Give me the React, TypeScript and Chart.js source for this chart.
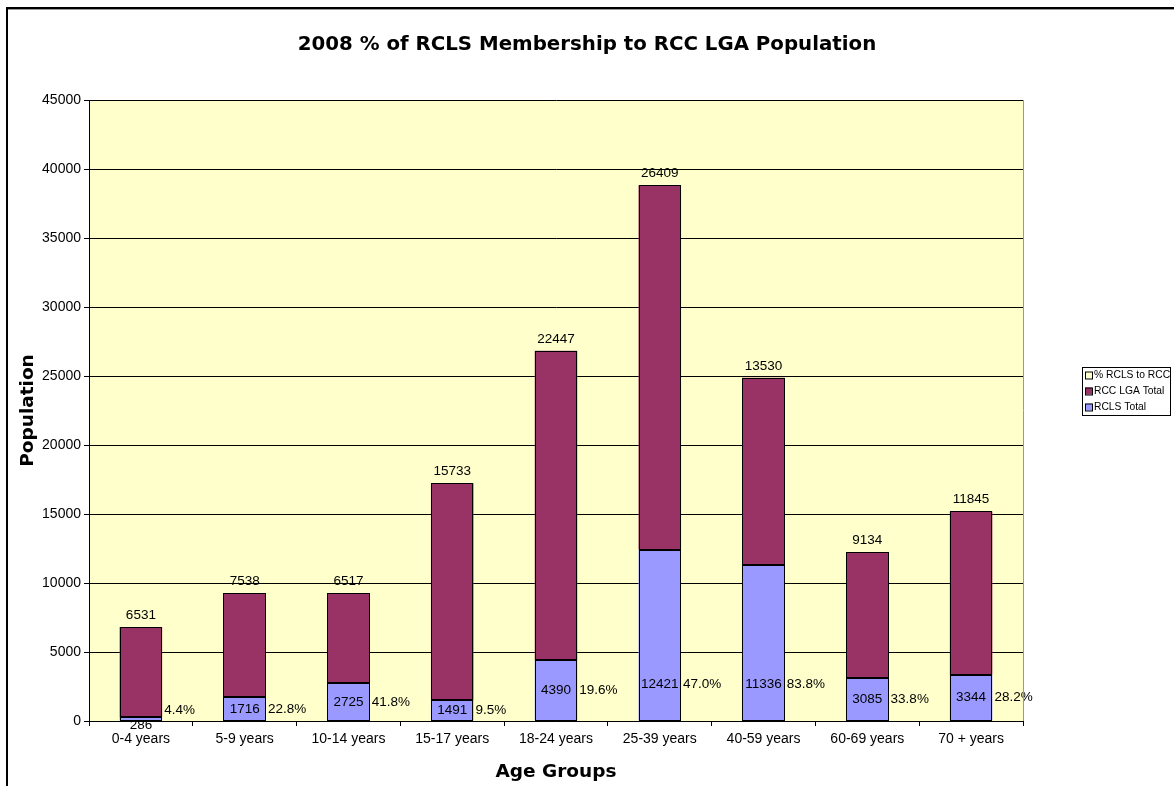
import React, { useEffect, useRef } from 'react';
import { Chart, registerables } from 'chart.js';

Chart.register(...registerables);

const chartTitle = '2008 % of RCLS Membership to RCC LGA Population';
const categories = ['0-4 years', '5-9 years', '10-14 years', '15-17 years', '18-24 years', '25-39 years', '40-59 years', '60-69 years', '70 + years'];
const rclsTotal = [286, 1716, 2725, 1491, 4390, 12421, 11336, 3085, 3344];
const rccLgaTotal = [6531, 7538, 6517, 15733, 22447, 26409, 13530, 9134, 11845];
const pctRclsToRcc = [4.4, 22.8, 41.8, 9.5, 19.6, 47.0, 83.8, 33.8, 28.2];
const yMin = 0;
const yMax = 45000;
const yStep = 5000;

const SANS = '"Liberation Sans", Arial, sans-serif';
const BOLD = '"DejaVu Sans", Verdana, sans-serif';
const COL_RCLS = '#9999FF';
const COL_RCC = '#993366';
const COL_PCT = '#FFFFCC';

const framePlugin = {
  id: 'frame',
  beforeDraw(chart: any) {
    const { ctx, chartArea, width, height } = chart;
    ctx.save();
    ctx.fillStyle = '#ffffff';
    ctx.fillRect(0, 0, width, height);
    // outer frame
    ctx.fillStyle = '#000000';
    ctx.fillRect(6, 7, width - 6, 2);
    ctx.fillRect(6, 7, 2, height - 7);
    ctx.fillStyle = '#999999';
    ctx.fillRect(8, 9, width - 8, 1);
    // plot background
    ctx.fillStyle = '#FFFFCC';
    ctx.fillRect(chartArea.left, chartArea.top, chartArea.right - chartArea.left, chartArea.bottom - chartArea.top);
    // title
    ctx.fillStyle = '#000000';
    ctx.font = `bold 19.8px ${BOLD}`;
    ctx.textAlign = 'center';
    ctx.textBaseline = 'middle';
    ctx.fillText(chartTitle, 587, 45);
    ctx.restore();
  },
  afterDraw(chart: any) {
    const { ctx, chartArea } = chart;
    ctx.save();
    // right plot border
    ctx.strokeStyle = '#999999';
    ctx.lineWidth = 1;
    ctx.beginPath();
    ctx.moveTo(chartArea.right + 0.5, chartArea.top);
    ctx.lineTo(chartArea.right + 0.5, chartArea.bottom);
    ctx.stroke();

    // legend
    const lx = 1082, ly = 367, lw = 88, lh = 48;
    ctx.fillStyle = '#ffffff';
    ctx.fillRect(lx, ly, lw, lh);
    ctx.strokeStyle = '#000000';
    ctx.strokeRect(lx + 0.5, ly + 0.5, lw, lh);
    const order = [2, 1, 0];
    ctx.font = `10.3px ${SANS}`;
    ctx.textAlign = 'left';
    ctx.textBaseline = 'middle';
    order.forEach((di, k) => {
      const ds = chart.data.datasets[di];
      const cy = ly + 8.5 + k * 16;
      ctx.fillStyle = ds.backgroundColor;
      ctx.fillRect(lx + 3, cy - 4, 7, 7);
      ctx.strokeStyle = '#000000';
      ctx.strokeRect(lx + 3.5, cy - 3.5, 7, 7);
      ctx.fillStyle = '#000000';
      ctx.fillText(ds.label, lx + 12, cy);
    });
    ctx.restore();
  },
};

const labelPlugin = {
  id: 'valueLabels',
  afterDatasetsDraw(chart: any) {
    const { ctx } = chart;
    const m0 = chart.getDatasetMeta(0);
    const m1 = chart.getDatasetMeta(1);
    const d0 = chart.data.datasets[0].data;
    const d1 = chart.data.datasets[1].data;
    const d2 = chart.data.datasets[2].data;
    ctx.save();
    // crisp black outlines around every bar segment
    ctx.strokeStyle = '#000000';
    ctx.lineWidth = 1;
    [m0, m1].forEach((meta: any) => {
      meta.data.forEach((bar: any) => {
        const l = Math.round(bar.x - bar.width / 2);
        const r = Math.round(bar.x + bar.width / 2);
        const t = Math.round(Math.min(bar.y, bar.base));
        const b = Math.round(Math.max(bar.y, bar.base));
        ctx.strokeRect(l + 0.5, t + 0.5, r - l - 1, Math.max(b - t - 1, 1));
      });
    });
    ctx.fillStyle = '#000000';
    ctx.font = `13.5px ${SANS}`;
    m1.data.forEach((bar: any, i: number) => {
      ctx.textAlign = 'center';
      ctx.textBaseline = 'bottom';
      ctx.fillText(String(d1[i]), bar.x, bar.y - 5);
    });
    m0.data.forEach((bar: any, i: number) => {
      const base = bar.base;
      const h = base - bar.y;
      const center = (bar.y + base) / 2;
      const y = h < 12 ? base + 5 : Math.max(center, base - 36);
      ctx.textAlign = 'center';
      ctx.textBaseline = 'middle';
      ctx.fillText(String(d0[i]), bar.x, y);
      const py = Math.min(y, base - 10);
      ctx.textAlign = 'left';
      ctx.fillText(Number(d2[i]).toFixed(1) + '%', bar.x + bar.width / 2 + 2, py);
    });
    ctx.restore();
  },
};

export default function App() {
  const canvasRef = useRef<HTMLCanvasElement | null>(null);

  useEffect(() => {
    const canvas = canvasRef.current;
    if (!canvas) return;
    const chart = new Chart(canvas, {
      type: 'bar',
      data: {
        labels: categories,
        datasets: [
          {
            label: 'RCLS Total',
            data: rclsTotal,
            backgroundColor: COL_RCLS,
            borderWidth: 0,
            barPercentage: 0.41,
            categoryPercentage: 1,
          },
          {
            label: 'RCC LGA Total',
            data: rccLgaTotal,
            backgroundColor: COL_RCC,
            borderWidth: 0,
            barPercentage: 0.41,
            categoryPercentage: 1,
          },
          {
            label: '% RCLS to RCC',
            data: pctRclsToRcc,
            backgroundColor: COL_PCT,
            borderWidth: 0,
            barPercentage: 0.41,
            categoryPercentage: 1,
            yAxisID: 'yPct',
            hidden: true,
          },
        ],
      },
      options: {
        responsive: false,
        animation: false,
        layout: { padding: { left: 0, right: 151, top: 100, bottom: 0 } },
        plugins: {
          legend: { display: false },
          title: { display: false },
          tooltip: { enabled: false },
        },
        scales: {
          x: {
            stacked: true,
            offset: true,
            grid: {
              display: true,
              drawOnChartArea: false,
              drawTicks: true,
              tickLength: 5,
              color: '#000000',
              offset: true,
            },
            border: { display: true, color: '#000000', width: 1 },
            ticks: {
              color: '#000000',
              font: { family: SANS, size: 14 },
              padding: 5,
              maxRotation: 0,
              autoSkip: false,
            },
            title: {
              display: true,
              text: 'Age Groups',
              color: '#000000',
              font: { family: BOLD, size: 18.5, weight: 'bold' },
              padding: { top: 2, bottom: 3 },
            },
            afterFit: (s: any) => {
              s.height = 65;
            },
          },
          y: {
            stacked: true,
            min: yMin,
            max: yMax,
            ticks: {
              stepSize: yStep,
              color: '#000000',
              font: { family: SANS, size: 14 },
              padding: 3,
              callback: (v: any) => String(v),
            },
            grid: { color: '#000000', tickLength: 5, drawTicks: true, lineWidth: 1 },
            border: { display: true, color: '#000000', width: 1 },
            title: {
              display: true,
              text: 'Population',
              color: '#000000',
              font: { family: BOLD, size: 18.5, weight: 'bold' },
              padding: { top: 17, bottom: 0 },
            },
            afterFit: (s: any) => {
              s.width = 89;
            },
          },
          yPct: {
            display: false,
            stacked: true,
            min: 0,
            max: 100,
          },
        },
      },
      plugins: [framePlugin, labelPlugin],
    });
    return () => chart.destroy();
  }, []);

  return (
    <div style={{ position: 'fixed', left: 0, top: 0, width: 1174, height: 786, background: '#fff' }}>
      <canvas ref={canvasRef} width={1174} height={786} style={{ display: 'block', width: 1174, height: 786 }} />
    </div>
  );
}
